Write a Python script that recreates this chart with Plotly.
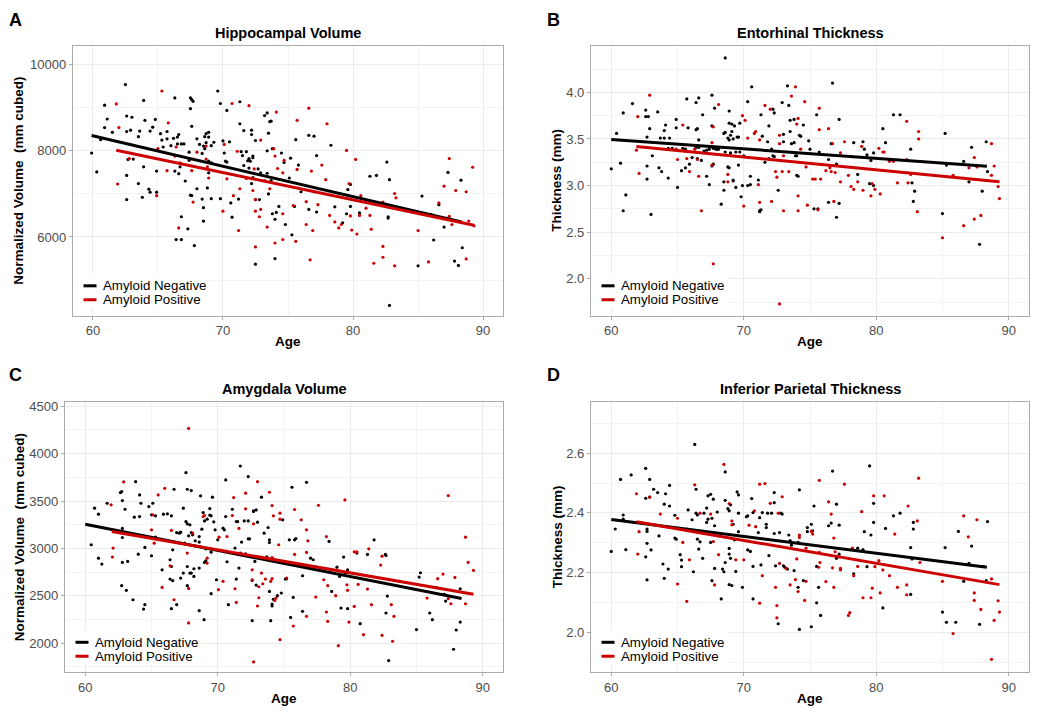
import plotly.graph_objects as go

W, H = 1050, 712

# ---------------- data ----------------
# Panel A: Hippocampal Volume
A_neg_age = [62.5,59.9,60.3,60.9,61.1,60.9,60.6,61.5,62.6,63.0,62.6,62.9,62.7,63.1,62.6,62.6,63.5,63.9,63.6,63.5,
             63.9,64.3,64.4,63.8,64.0,64.4,64.6,64.8,64.9,64.9,65.2,65.3,65.4,65.7,65.7,66.0,66.3,66.3,66.2,66.5,
             66.6,66.5,66.6,66.7,66.8,67.0,67.1,67.3,66.8,66.4,66.8,67.5,67.6,67.7,67.5,67.6,67.4,67.4,67.8,67.5,
             67.6,68.0,68.0,68.2,68.5,68.4,68.6,68.7,68.9,68.9,68.7,68.6,68.9,69.1,68.9,68.8,68.5,68.4,68.5,69.1,
             69.3,69.6,69.8,70.0,70.3,70.1,70.3,70.5,70.2,69.8,69.1,70.7,70.6,71.2,71.3,71.3,71.6,71.4,71.5,71.8,
             71.9,71.6,72.0,72.0,72.3,72.1,72.3,72.2,72.2,72.5,72.3,72.7,72.9,72.2,72.5,72.8,73.2,73.4,73.6,73.7,
             73.5,73.8,73.4,73.4,73.7,73.5,74.3,73.8,74.0,74.1,74.0,72.5,74.5,74.7,74.8,75.2,75.1,75.6,75.8,75.3,
             75.5,76.0,76.6,77.0,76.6,77.2,77.0,77.2,78.3,79.8,79.6,78.6,79.8,79.5,79.2,80.5,81.3,81.8,82.6,82.8,
             82.7,82.7,82.8,85.0,85.3,86.2,86.6,87.0,87.3,88.3,88.4,87.8,88.1,86.0]
A_neg_val = [9540,7950,7510,9060,8740,8540,8260,8430,8810,8780,8450,8480,7800,7810,7430,6870,7240,9170,8460,8330,
             7630,7110,7040,6920,8710,8460,8550,8730,7530,7040,8400,8250,8090,8280,8450,8120,9230,7530,8290,8320,
             8380,8160,7470,7630,8160,8160,7300,6190,6470,5940,5940,9230,9190,9150,8980,8570,7970,7780,5800,6970,
             6960,7120,8280,8150,8110,7940,8330,8400,8430,8320,8190,8050,7760,7720,7490,7140,6680,6880,6370,8120,
             8200,9390,9100,8230,8940,7950,7740,8210,7760,6890,6890,6460,6790,6880,9140,8630,8470,7980,7890,7980,
             7770,7660,7600,7820,7840,7760,7880,8480,8380,8240,7380,7580,7490,7240,6870,6870,8820,8880,8680,8690,
             8410,8050,8000,7480,7310,7000,6710,6540,6410,6570,5500,5370,7950,7730,6290,7830,7370,8260,7670,6050,
             6710,7050,8360,8340,6640,6580,7050,7890,8130,7220,7100,6700,6710,6540,6330,6560,7410,7430,7740,7330,
             6470,6440,4410,5330,6950,5930,6750,6230,7500,7320,5750,5440,5340,6520]
A_pos_age = [65.3,61.8,62.0,61.9,62.8,65.0,65.8,65.7,64.9,66.4,66.3,66.6,66.7,67.6,67.7,68.0,68.7,68.7,68.8,68.9,
             70.1,70.0,70.3,70.7,70.8,71.1,71.2,71.3,72.0,71.8,72.3,72.4,72.5,72.5,72.5,72.9,72.8,72.9,73.2,73.6,
             73.4,73.9,74.0,74.1,74.0,74.2,74.6,74.7,74.6,74.6,75.4,75.6,75.7,75.7,76.4,76.6,76.4,76.7,76.8,76.9,
             77.3,77.6,77.9,78.0,78.2,78.6,78.9,79.1,79.5,79.7,79.8,79.9,80.2,80.3,80.6,80.5,81.0,81.3,81.4,81.6,
             82.3,82.3,82.3,83.2,83.3,83.2,85.0,85.8,86.6,87.0,87.4,87.4,87.6,87.9,88.7,88.9,89.2,89.3,88.7]
A_pos_val = [9390,9090,8540,7230,7820,8050,8650,7540,6960,8090,7880,6210,7720,7540,6810,7970,8110,7810,7630,7370,
             8150,6600,7350,9100,6960,7990,6150,7120,9050,7360,7080,7580,6870,6600,5770,6640,6470,8250,7310,7120,
             6230,8050,7880,8900,5860,7590,7490,7780,6540,5940,6730,5900,8710,7570,6820,8990,6290,5470,7530,6150,
             6750,7670,7330,8630,6500,6350,6210,6290,8010,7240,6490,6160,7800,6070,6960,6500,6670,6500,6180,5390,
             6810,5780,5530,7010,6910,5330,6150,5420,6790,7180,7820,6480,6290,7080,7050,6370,7620,6260,5490]
A_fit_neg_age = [59.9, 88.35]
A_fit_neg_val = [8356, 6349]
A_fit_pos_age = [61.8, 89.3]
A_fit_pos_val = [8016, 6272]

# Panel B: Entorhinal Thickness
B_neg_age = [68.6,60.0,60.4,60.7,60.9,61.1,60.9,61.6,62.6,62.6,62.8,62.9,62.7,62.7,62.7,63.1,63.0,63.5,63.6,63.8,
             63.7,64.0,64.1,64.0,64.3,64.4,64.3,64.9,64.9,65.0,64.6,65.3,65.4,65.7,65.8,66.4,66.6,66.4,66.5,66.6,
             66.9,66.4,66.6,66.1,66.5,66.8,65.6,65.6,65.9,67.0,67.2,67.6,67.4,67.7,67.9,68.0,68.1,67.8,67.6,67.6,
             67.7,67.4,67.2,68.3,68.5,68.5,68.5,68.6,68.8,69.0,68.9,68.9,69.1,69.1,69.3,69.5,69.6,69.2,68.9,68.6,
             68.8,68.9,69.2,69.2,69.0,69.4,69.7,69.7,69.6,69.4,69.8,69.9,70.3,70.6,70.0,70.4,70.5,70.5,70.3,71.1,
             71.2,71.3,71.2,71.3,71.4,71.6,71.8,71.9,71.9,72.2,72.3,72.3,72.1,72.2,72.6,72.9,73.0,73.0,73.3,73.4,
             73.5,73.5,73.6,73.8,73.8,73.9,74.0,74.1,74.0,74.2,74.3,74.5,74.9,75.0,75.3,75.5,75.6,75.7,76.7,77.2,
             76.4,76.6,77.0,76.4,77.2,77.0,78.3,79.0,79.1,79.3,79.6,79.8,78.6,79.5,79.8,80.5,80.7,81.3,81.8,82.6,
             82.7,82.9,82.8,85.2,85.3,85.0,86.6,87.0,87.2,88.0,88.3,88.4,87.8]
B_neg_val = [4.37,3.18,3.56,3.24,3.78,2.90,2.73,3.88,3.81,3.74,3.74,3.61,3.52,3.21,3.07,3.32,2.69,3.79,3.19,3.15,
             3.51,3.59,3.65,3.51,3.08,3.51,3.40,3.71,3.62,2.98,3.40,3.16,3.40,3.93,3.62,3.89,3.94,3.60,3.61,3.49,
             3.76,3.41,3.41,3.30,3.29,3.27,3.19,3.39,3.23,3.37,3.38,3.97,3.39,3.40,3.39,3.39,3.39,3.83,3.64,3.21,
             3.23,3.01,3.10,2.80,3.04,2.95,3.56,3.57,3.51,3.54,3.80,3.67,3.58,3.66,3.64,3.52,3.52,3.50,3.49,3.36,
             3.20,3.19,3.06,3.05,3.35,3.36,3.67,3.36,3.22,2.98,2.88,3.00,3.90,4.06,3.32,3.30,3.10,3.01,3.00,3.06,
             2.73,2.74,2.72,3.76,3.53,3.25,3.47,3.29,3.64,3.82,3.78,3.31,3.39,3.32,2.95,3.89,3.55,3.47,4.07,3.86,
             3.70,3.58,3.45,3.71,3.46,3.32,3.11,3.10,3.32,3.54,3.53,3.65,3.48,3.39,2.75,3.76,2.75,3.36,4.10,3.71,
             3.28,3.45,3.23,2.82,2.81,2.66,3.46,3.47,3.39,3.33,3.27,3.35,3.12,3.02,3.00,3.61,3.46,3.76,3.76,3.39,
             3.03,2.94,2.83,3.56,3.22,2.70,3.26,3.04,3.41,2.94,3.47,3.15,2.37]
B_pos_age = [62.9,62.0,61.9,62.1,64.9,65.0,65.4,65.7,65.9,66.3,66.5,66.6,66.8,67.6,67.6,67.7,67.7,68.1,68.8,68.8,
             69.9,70.1,70.3,70.0,70.8,70.9,71.2,71.1,71.2,71.6,72.0,72.1,72.4,72.5,72.7,72.7,72.7,72.9,73.0,73.0,
             73.4,73.6,73.9,74.0,74.1,74.1,74.1,74.3,74.6,74.7,74.8,75.2,75.4,75.8,75.7,75.7,75.6,76.4,76.7,76.2,
             76.5,76.6,76.9,77.3,77.6,77.3,76.8,77.9,78.1,78.3,78.6,78.9,78.2,79.0,79.6,79.7,79.9,80.3,80.2,80.5,
             80.6,81.0,81.3,81.6,82.3,82.3,82.4,82.6,83.2,83.2,83.1,85.0,85.8,86.6,87.0,87.4,87.4,87.6,87.9,88.7,
             88.9,88.7,89.2,89.3]
B_pos_val = [3.97,3.74,3.38,3.13,3.39,3.28,3.65,3.29,3.15,3.39,3.28,3.10,2.73,3.46,3.22,3.63,2.16,3.87,3.12,3.04,
             3.75,3.70,3.51,2.78,3.56,3.58,3.49,3.01,2.82,3.86,3.82,2.83,3.15,3.09,3.54,3.45,1.73,3.15,3.32,2.73,
             3.15,3.96,4.06,3.66,3.72,2.89,2.73,3.39,3.90,3.20,2.79,3.07,3.07,3.07,3.83,3.60,2.74,3.61,3.45,3.16,
             3.19,3.15,3.14,3.35,3.47,3.04,2.83,3.11,2.99,2.96,3.04,3.42,3.31,2.95,2.89,3.02,2.96,2.91,3.40,3.36,
             3.36,3.26,3.26,3.03,3.69,3.28,3.03,3.12,3.58,3.50,2.72,2.44,3.11,2.57,3.19,3.30,2.64,3.20,2.68,3.45,
             3.21,3.11,2.99,2.86]
B_fit_neg_age = [60.0, 88.35]
B_fit_neg_val = [3.494, 3.208]
B_fit_pos_age = [61.9, 89.3]
B_fit_pos_val = [3.418, 3.040]

# Panel C: Amygdala Volume
C_neg_age = [60.45,61.0,60.7,61.0,61.25,61.65,62.65,62.75,62.8,63.0,62.8,62.8,62.8,63.2,62.75,63.1,63.6,64.5,64.4,63.8,
             64.1,64.2,64.1,63.7,64.5,64.0,64.8,65.1,65.0,65.3,65.3,65.0,65.8,65.9,66.2,66.5,66.7,66.4,66.6,66.5,
             66.4,66.6,66.5,66.9,66.9,67.1,67.2,67.4,67.6,67.6,67.7,67.9,67.8,67.7,68.0,67.5,67.2,67.4,67.7,67.7,
             67.9,68.0,68.2,68.2,68.1,68.0,68.3,68.6,68.8,68.6,68.6,68.6,68.7,68.9,69.0,69.2,69.4,69.4,69.5,69.6,
             69.1,69.1,69.0,68.97,69.5,69.5,69.9,69.8,69.7,70.0,70.4,70.5,70.6,70.6,70.7,70.8,71.4,71.3,71.1,71.4,
             71.5,71.6,71.7,71.7,71.8,72.0,72.3,72.3,72.3,72.4,72.7,72.7,72.9,72.1,72.8,72.6,72.6,72.9,73.0,73.3,
             73.5,73.8,73.7,73.9,73.9,74.0,73.9,74.2,74.1,74.1,74.5,74.8,75.1,75.2,74.9,75.4,75.6,75.7,75.5,75.8,
             75.9,76.4,76.4,76.7,77.0,77.2,78.4,79.0,79.2,78.6,79.3,79.8,79.5,79.8,79.6,80.5,81.3,81.8,82.65,82.7,
             80.75,82.7,82.8,82.9,85.0,85.2,85.3,86.0,86.2,86.5,87.2,87.1,87.8,88.0,88.3,88.3]
C_neg_val = [3039,3362,3425,2898,2835,3477,3590,3600,3505,3414,3211,3116,2853,2863,2607,2558,2459,2407,2361,3705,
             3565,3477,3337,3330,3011,2940,3442,3477,3355,3344,3119,2923,2775,3362,3365,3344,3625,2881,2986,2810,
             2677,2660,2365,2407,3168,3161,3172,3425,3800,3284,3260,3249,3133,3625,3611,3056,2688,2740,2810,2607,
             2740,2740,2705,2786,3144,3168,3081,3126,3204,3067,2793,2344,3555,3379,3291,3309,3351,3421,3344,3541,
             2996,2870,2853,2249,2961,2523,2670,3197,3281,3091,3214,3197,3723,3337,2860,2407,2677,3004,3414,3284,
             3284,2793,3870,2951,3067,3291,3291,3758,3102,3102,3390,3397,3407,2944,2863,2663,2238,2614,3277,3541,
             3161,3221,2912,3091,2547,2238,3063,2463,2414,2393,2502,2530,2677,2681,3302,3091,3646,2484,2273,3091,
             3105,2712,2337,3698,2898,2881,3074,2803,2705,2547,2372,2365,2909,2775,2733,2951,2937,3091,2937,2926,
             2207,2319,2498,1817,2144,2698,2744,2319,2249,2586,2445,2516,1937,2140,2575,2224]
C_pos_age = [67.8,62.9,61.95,62.1,62.05,65.5,66.0,65.1,65.2,65.0,65.8,66.4,66.7,66.5,67.7,67.8,67.8,68.1,68.9,69.2,
             69.2,69.0,70.1,70.05,70.7,70.4,71.2,71.1,71.3,71.4,71.6,72.1,72.1,72.7,72.6,72.6,72.7,73.0,73.1,73.1,
             73.0,73.3,73.4,73.6,73.9,74.0,74.1,74.1,74.2,74.1,74.3,74.4,74.6,74.7,74.7,74.7,75.2,75.8,75.8,75.7,
             76.3,76.7,76.8,76.7,76.7,77.4,77.6,78.0,78.2,78.3,78.2,78.3,78.9,79.1,79.6,79.75,79.8,79.9,80.3,80.5,
             80.6,80.3,81.0,81.3,81.4,81.6,82.3,82.4,82.4,83.1,83.2,83.3,85.8,86.6,87.0,87.4,87.4,87.6,87.9,88.7,
             88.7,88.9,89.3]
C_pos_val = [4267,3702,3460,3004,2909,3565,3635,3355,3056,3197,2589,2817,2459,3190,2951,2579,2214,3161,3337,2898,
             2846,3348,3119,2565,3126,2653,3537,3348,2575,2431,3211,3583,3418,3260,2775,2670,1803,3705,2596,2480,
             2393,2740,2628,2677,3593,2653,3453,2905,3344,2681,2452,2477,3039,3372,3309,2038,2688,3411,2937,2182,
             3302,3197,3081,2958,2284,2488,3456,2670,3126,2607,2330,2231,2502,1975,3512,2617,2558,2224,2965,2965,
             2621,2389,2091,2572,2996,2407,2825,2919,2084,2407,2021,2284,2477,2681,2730,3558,2470,2417,2695,2417,
             3119,2853,2768]
C_fit_neg_age = [60.0, 88.4]
C_fit_neg_val = [3255, 2472]
C_fit_pos_age = [62.0, 89.3]
C_fit_pos_val = [3179, 2518]

# Panel D: Inferior Parietal Thickness
D_neg_age = [66.3,60.0,60.3,60.7,60.9,60.9,61.1,61.5,62.6,62.9,62.6,62.9,63.2,63.5,62.7,62.7,62.7,63.0,62.6,62.7,
             63.6,63.9,64.3,64.0,64.1,64.0,64.4,64.4,64.8,64.8,64.9,65.2,65.3,65.3,65.8,65.7,66.1,66.2,66.4,66.4,
             66.5,66.5,66.7,66.6,66.9,66.8,67.0,67.2,67.2,67.3,67.3,67.5,67.7,67.6,67.8,68.0,67.5,67.6,67.8,68.3,
             68.4,68.5,68.6,68.6,68.6,68.8,68.9,69.0,68.9,68.9,69.0,68.9,69.1,69.2,69.3,69.5,69.6,69.6,69.6,69.4,
             69.9,70.2,70.3,70.3,70.5,70.6,70.7,70.7,70.7,71.1,71.2,71.3,71.4,71.7,71.8,71.7,71.9,72.1,72.3,72.3,
             72.3,72.4,72.6,72.7,72.8,72.9,73.0,73.1,73.3,73.4,73.5,73.6,73.8,74.1,74.1,74.2,74.2,74.5,74.8,74.8,
             75.1,75.1,75.2,75.3,75.5,75.5,75.8,76.7,77.0,76.4,76.6,77.2,77.0,77.2,75.65,78.3,78.6,79.0,79.3,79.5,
             79.8,79.8,79.1,79.6,80.5,80.7,81.3,81.8,82.6,82.7,82.8,82.8,82.6,85.2,85.0,85.3,86.0,86.2,86.6,87.0,
             87.2,87.8,88.1,88.4,88.3]
D_neg_val = [2.629,2.271,2.346,2.512,2.393,2.379,2.277,2.527,2.549,2.512,2.449,2.453,2.479,2.468,2.346,2.338,2.298,2.276,2.253,2.176,
             2.323,2.229,2.212,2.181,2.464,2.429,2.492,2.423,2.392,2.316,2.312,2.260,2.242,2.220,2.410,2.346,2.377,2.203,2.479,2.399,
             2.393,2.312,2.303,2.279,2.248,2.334,2.399,2.416,2.368,2.379,2.457,2.462,2.446,2.382,2.357,2.403,2.301,2.173,2.214,2.112,
             2.212,2.203,2.234,2.442,2.537,2.414,2.407,2.427,2.281,2.262,2.248,2.160,2.157,2.362,2.310,2.470,2.460,2.399,2.337,2.204,
             2.151,2.387,2.390,2.276,2.271,2.448,2.401,2.221,2.112,2.334,2.384,2.226,2.401,2.362,2.399,2.351,2.257,2.399,2.468,2.434,
             2.331,2.223,2.029,2.334,2.399,2.396,2.223,2.218,2.212,2.326,2.307,2.292,2.207,2.301,2.151,2.477,2.010,2.173,2.351,2.337,
             2.362,2.019,2.340,2.423,2.099,2.221,2.057,2.540,2.429,2.357,2.366,2.359,2.248,2.262,2.151,2.196,2.282,2.277,2.220,2.557,
             2.432,2.368,2.337,2.326,2.082,2.348,2.390,2.399,2.284,2.246,2.368,2.346,2.127,2.284,2.068,2.034,2.034,2.338,2.171,2.231,
             2.289,2.027,2.221,2.371,2.173]
D_pos_age = [61.9,62.1,62.0,62.9,63.7,65.0,65.4,65.0,65.7,65.9,66.3,66.7,67.5,67.7,67.8,68.1,68.5,68.9,69.1,69.1,
             69.4,70.0,70.4,70.8,70.9,71.2,71.6,71.4,71.2,72.0,72.4,72.5,72.5,72.6,72.7,72.9,73.2,73.5,73.9,74.1,
             74.2,74.2,74.0,74.6,74.7,74.7,75.1,75.2,75.7,75.7,75.75,75.65,76.4,76.6,76.8,76.9,76.7,76.8,76.2,77.6,
             77.3,77.3,78.2,78.3,78.6,77.9,78.0,78.9,79.0,79.6,79.7,79.8,79.9,80.2,80.5,80.3,80.6,81.0,81.4,81.6,
             82.3,82.3,82.4,83.1,83.2,83.3,85.0,85.8,86.6,86.95,87.6,87.4,87.4,87.9,88.7,88.7,88.9,89.2,89.3]
D_pos_val = [2.464,2.337,2.262,2.453,2.396,2.382,2.301,2.162,2.104,2.243,2.494,2.399,2.396,2.304,2.159,2.260,2.562,2.431,2.373,2.360,
             2.243,2.243,2.359,2.407,2.354,2.496,2.498,2.190,2.098,2.432,2.151,2.090,2.049,2.399,2.231,2.454,2.214,2.159,2.177,2.137,
             2.326,2.318,2.246,2.107,2.282,2.171,2.338,2.329,2.509,2.268,2.234,2.218,2.437,2.396,2.316,2.270,2.216,2.151,2.170,2.496,
             2.214,2.209,2.282,2.190,2.221,2.057,2.066,2.404,2.116,2.116,2.148,2.457,2.220,2.240,2.209,2.132,2.457,2.190,2.329,2.151,
             2.159,2.126,2.423,2.373,2.516,2.234,2.171,1.996,2.390,2.320,2.377,2.132,2.107,2.077,2.179,1.910,2.040,2.106,2.068]
D_fit_neg_age = [60.0, 88.35]
D_fit_neg_val = [2.378, 2.218]
D_fit_pos_age = [61.9, 89.3]
D_fit_pos_val = [2.370, 2.160]

panel_letters = ["A", "B", "C", "D"]
panel_titles = ["Hippocampal Volume", "Entorhinal Thickness", "Amygdala Volume", "Inferior Parietal Thickness"]
y_titles = ["Normalized Volume  (mm cubed)", "Thickness (mm)", "Normalized Volume  (mm cubed)", "Thickness (mm)"]
x_title = "Age"
legend_labels = ["Amyloid Negative", "Amyloid Positive"]

# ---------------- styling / layout ----------------
NEG_COL = "#000000"
POS_COL = "#CC0000"
FONT = "Liberation Sans, Arial, sans-serif"
BORDER = "#ABABAB"
GRID = "#EBEBEB"
GRID_MINOR = "#F3F3F3"

def px(x):
    return x / W

def py(y):
    return 1 - y / H

# pixel boxes of the four panels: left, right, top, bottom
boxes = [(73, 503, 43, 314), (591, 1029, 43, 314), (65, 503, 401, 672), (591, 1029, 401, 672)]
yranges = [[4173, 10439], [1.604, 4.4995], [1695, 4542], [1.867, 2.77]]
ydticks = [2000, 0.5, 500, 0.2]
yminor = [1000, 0.25, 250, 0.1]
yfmt = ["d", ".1f", "d", ".1f"]
xrange_all = [58.47, 91.53]
letter_pos = [(15, 17), (553, 17), (15, 374), (553, 374)]
ytitle_x = [19, 557, 19, 557]

data = [
    (A_neg_age, A_neg_val, A_pos_age, A_pos_val, A_fit_neg_age, A_fit_neg_val, A_fit_pos_age, A_fit_pos_val),
    (B_neg_age, B_neg_val, B_pos_age, B_pos_val, B_fit_neg_age, B_fit_neg_val, B_fit_pos_age, B_fit_pos_val),
    (C_neg_age, C_neg_val, C_pos_age, C_pos_val, C_fit_neg_age, C_fit_neg_val, C_fit_pos_age, C_fit_pos_val),
    (D_neg_age, D_neg_val, D_pos_age, D_pos_val, D_fit_neg_age, D_fit_neg_val, D_fit_pos_age, D_fit_pos_val),
]

fig = go.Figure()
annotations = []
shapes = []
layout_axes = {}

for i in range(4):
    sfx = "" if i == 0 else str(i + 1)
    xa, ya = "x" + sfx, "y" + sfx
    na, nv, pa, pv, fna, fnv, fpa, fpv = data[i]
    fig.add_trace(go.Scatter(x=na, y=nv, mode="markers", xaxis=xa, yaxis=ya, showlegend=False,
                             marker=dict(color=NEG_COL, size=3.2, line=dict(width=0)), hoverinfo="skip"))
    fig.add_trace(go.Scatter(x=pa, y=pv, mode="markers", xaxis=xa, yaxis=ya, showlegend=False,
                             marker=dict(color=POS_COL, size=3.2, line=dict(width=0)), hoverinfo="skip"))
    fig.add_trace(go.Scatter(x=fna, y=fnv, mode="lines", xaxis=xa, yaxis=ya, showlegend=False,
                             line=dict(color=NEG_COL, width=3), hoverinfo="skip"))
    fig.add_trace(go.Scatter(x=fpa, y=fpv, mode="lines", xaxis=xa, yaxis=ya, showlegend=False,
                             line=dict(color=POS_COL, width=3), hoverinfo="skip"))

    l, r, t, b = boxes[i]
    common = dict(showline=True, linecolor=BORDER, linewidth=1.3, mirror=True,
                  ticks="outside", ticklen=3, tickcolor=BORDER, tickwidth=1,
                  tickfont=dict(family=FONT, size=13, color="#4D4D4D"),
                  showgrid=True, gridcolor=GRID, gridwidth=1, zeroline=False)
    layout_axes["xaxis" + sfx] = dict(common, domain=[px(l), px(r)], anchor=ya, range=xrange_all,
                                      tick0=60, dtick=10,
                                      minor=dict(dtick=5, tick0=60, showgrid=True, gridcolor=GRID_MINOR, gridwidth=1))
    layout_axes["yaxis" + sfx] = dict(common, domain=[py(b), py(t)], anchor=xa, range=yranges[i],
                                      tick0=0, dtick=ydticks[i], tickformat=yfmt[i],
                                      minor=dict(dtick=yminor[i], tick0=0, showgrid=True, gridcolor=GRID_MINOR, gridwidth=1))

    cx = (l + r) / 2
    # panel title
    annotations.append(dict(text="<b>%s</b>" % panel_titles[i], x=px(cx), y=py(t - 13), xref="paper", yref="paper",
                            showarrow=False, xanchor="center", yanchor="middle",
                            font=dict(family=FONT, size=14.5, color="#000000")))
    # x axis title
    annotations.append(dict(text="<b>%s</b>" % x_title, x=px(cx), y=py(b + 26), xref="paper", yref="paper",
                            showarrow=False, xanchor="center", yanchor="middle",
                            font=dict(family=FONT, size=13.5, color="#000000")))
    # y axis title
    annotations.append(dict(text="<b>%s</b>" % y_titles[i], x=px(ytitle_x[i]), y=py((t + b) / 2), xref="paper", yref="paper",
                            showarrow=False, xanchor="center", yanchor="middle", textangle=-90,
                            font=dict(family=FONT, size=13.5, color="#000000")))
    # panel letter
    lx, ly = letter_pos[i]
    annotations.append(dict(text="<b>%s</b>" % panel_letters[i], x=px(lx), y=py(ly), xref="paper", yref="paper",
                            showarrow=False, xanchor="center", yanchor="middle",
                            font=dict(family=FONT, size=18, color="#000000")))
    # in-panel legend (white box, keys, labels)
    shapes.append(dict(type="rect", xref="paper", yref="paper", x0=px(l + 1.5), x1=px(l + 137), y0=py(b - 42), y1=py(b - 8),
                       fillcolor="#FFFFFF", line=dict(width=0), layer="above"))
    for k, (lab, col) in enumerate(zip(legend_labels, [NEG_COL, POS_COL])):
        yy = b - 30 + 14 * k
        shapes.append(dict(type="line", xref="paper", yref="paper", x0=px(l + 10.5), x1=px(l + 23.5), y0=py(yy), y1=py(yy),
                           line=dict(color=col, width=3), layer="above"))
        annotations.append(dict(text=lab, x=px(l + 28), y=py(yy), xref="paper", yref="paper", showarrow=False,
                                xanchor="left", yanchor="middle",
                                font=dict(family=FONT, size=13.3, color="#000000")))

fig.update_layout(
    width=W, height=H,
    margin=dict(l=0, r=0, t=0, b=0),
    paper_bgcolor="#FFFFFF", plot_bgcolor="#FFFFFF",
    showlegend=False,
    annotations=annotations, shapes=shapes,
    **layout_axes,
)

fig.write_html("out.html", config={"displayModeBar": False},
               post_script="document.body.style.margin='0px';document.body.style.padding='0px';")
